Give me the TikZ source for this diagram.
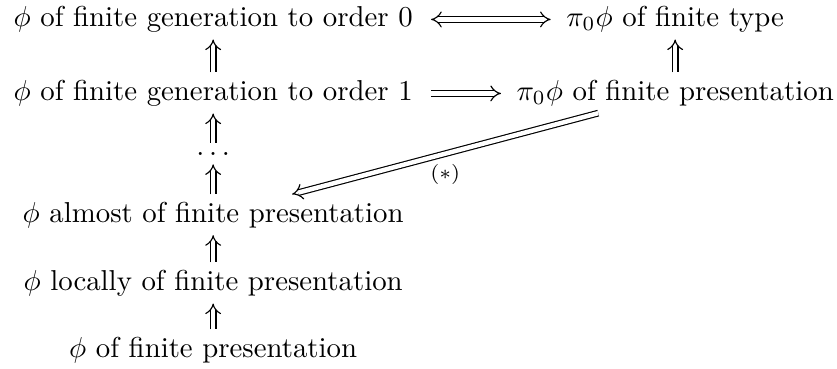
\documentclass[tikz,border=0pt]{standalone}
\usepackage{amsmath}
\usetikzlibrary{arrows.meta, positioning}
\tikzset{
  obj/.style={anchor=base, inner xsep=3.4pt, inner ysep=2.4pt},
  impl/.style={double, double equal sign distance, -{Implies}},
  iff/.style={double, double equal sign distance, {Implies}-{Implies}},
}

\begin{document}
\begin{tikzpicture}[x=1pt, y=1pt]
    \useasboundingbox (0,0) rectangle (290.6,127.8);
    % left column
    \node[obj] (g0) at (74,118.75) {$\phi$ of finite generation to order $0$};
    \node[obj] (g1) at (74,93.06) {$\phi$ of finite generation to order $1$};
    \node[obj, inner ysep=3pt] (dd) at (74,73.96) {$\ldots$};
    \node[obj] (ap) at (74,50.7) {$\phi$ almost of finite presentation};
    \node[obj] (lp) at (74,27.08) {$\phi$ locally of finite presentation};
    \node[obj] (fp) at (74,3.82) {$\phi$ of finite presentation};
    % right column
    \node[obj] (t0) at (234.4,118.75) {$\pi_0\phi$ of finite type};
    \node[obj] (p1) at (234.4,93.06) {$\pi_0\phi$ of finite presentation};
    \draw[iff, shorten <=2.8pt, shorten >=1.8pt] ([yshift=2.3pt]g0.base east) -- ([yshift=2.3pt]t0.base west);
    \draw[impl, shorten <=2.8pt, shorten >=1.8pt] ([yshift=2.3pt]g1.base east) -- ([yshift=2.3pt]p1.base west);
    \draw[impl] (g1) -- (g0);
    \draw[impl] (dd) -- (g1);
    \draw[impl] (ap) -- (dd);
    \draw[impl] (lp) -- (ap);
    \draw[impl] (fp) -- (lp);
    \draw[impl] (p1) -- (t0);
    \draw[impl] ([xshift=-26.7pt]p1.south) -- node[below, font=\scriptsize]{$(*)$} ([xshift=27.4pt]ap.north);
  \end{tikzpicture}
\end{document}
